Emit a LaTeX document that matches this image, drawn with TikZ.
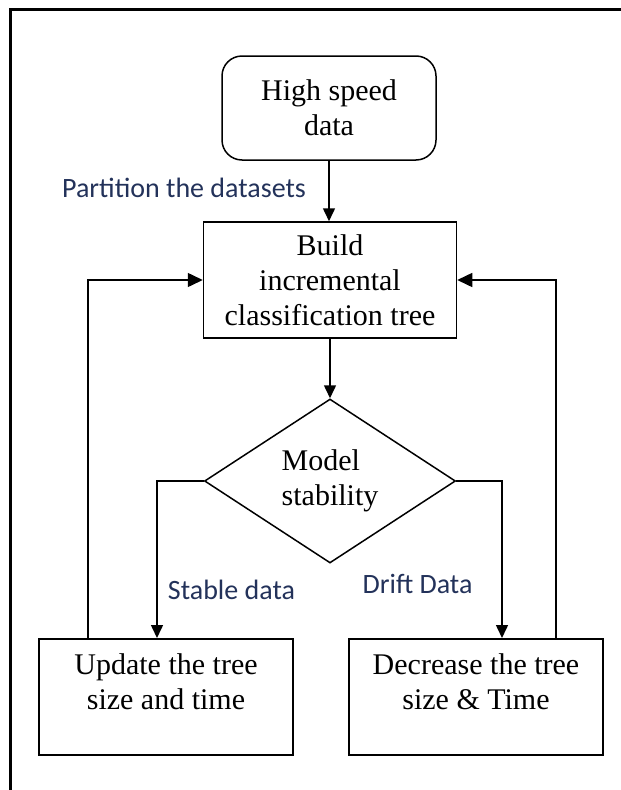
\documentclass[tikz,border=0pt]{standalone}
\usepackage{fontspec}
\setmainfont{Liberation Serif}
\newfontfamily\labelfont{Carlito}
\usetikzlibrary{arrows.meta, shapes.geometric}
\definecolor{labelblue}{RGB}{35,50,90}
\tikzset{
    box/.style={draw, line width=1.5pt, minimum width=254pt, minimum height=116pt,
        inner sep=6pt, align=center, font=\fontsize{30}{35}\selectfont},
    decision/.style={draw, diamond, line width=1.5pt, minimum width=251pt,
        minimum height=164pt, inner sep=0pt, align=left, font=\fontsize{30}{35}\selectfont},
    flow/.style={line width=1.5pt, -{Triangle[length=13pt,width=12pt]}},
    back/.style={line width=1.5pt, -{Triangle[length=15pt,width=14pt]}},
    edgetext/.style={text=labelblue, inner sep=0pt, font=\labelfont\fontsize{28}{32}\selectfont}
}
\begin{document}
\begin{tikzpicture}[x=1pt, y=-1pt]
    \useasboundingbox (0,0) rectangle (621,790);
    % page frame
    \draw[line width=3pt] (10,790) -- (10,9) -- (621,9);
    % blocks
    \node[box, rounded corners=20pt, minimum width=214pt, minimum height=104pt] (data) at (329,108) {High speed\\data};
    \node[box, minimum width=253pt] (build) at (330,280) {Build\\incremental\\classification tree};
    \node[decision] (model) at (330,481) {Model\\stability};
    \node[box, anchor=north, text height=65pt, text depth=39pt] (update) at (166,638) {Update the tree\\size and time};
    \node[box, anchor=north, text height=65pt, text depth=39pt] (decrease) at (476,638) {Decrease the tree\\size \& Time};
    % connectors
    \draw[flow] (data.south) -- (data.south |- build.north);
    \draw[flow] (build.south) -- (model.north);
    \draw[flow] (model.west) -| ([xshift=-9pt]update.north);
    \draw[flow] (model.east) -| ([xshift=26pt]decrease.north);
    \draw[back] ([xshift=-78pt]update.north) |- (build.west);
    \draw[back] ([xshift=80pt]decrease.north) |- (build.east);
    % labels
    \node[edgetext] (partition) at (184,188) {Partition the datasets};
    \node[edgetext] (stable) at (231.5,590) {Stable data};
    \node[edgetext] (drift) at (417.5,584) {Drift Data};
\end{tikzpicture}
\end{document}
